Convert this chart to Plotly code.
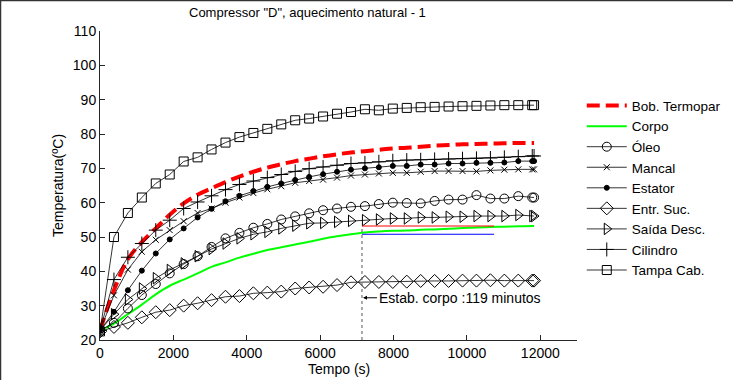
import plotly.graph_objects as go

# time axis (s)
tempo = [0, 380, 760, 1140, 1520, 1900, 2280, 2660, 3040, 3420, 3800, 4180, 4560, 4940, 5320, 5700,
         6080, 6460, 6840, 7220, 7600, 7980, 8360, 8740, 9120, 9500, 9880, 10260, 10640, 11020, 11400,
         11780, 11830]

bob_termopar = [22.8, 34.5, 43.5, 48.5, 52.5, 56.5, 59.8, 62.3, 64.2, 66.0, 67.6, 69.0, 70.2, 71.2, 72.1, 72.8,
                73.5, 74.1, 74.6, 75.0, 75.4, 75.8, 76.0, 76.3, 76.6, 76.8, 77.0, 77.1, 77.2, 77.3, 77.4, 77.4, 77.4]
corpo = [22.8, 24.8, 27.5, 30.3, 33.3, 35.8, 37.6, 39.4, 41.3, 42.6, 44.0, 45.1, 46.2, 47.0, 47.8, 48.6,
         49.5, 50.2, 50.8, 51.3, 51.6, 51.8, 51.9, 52.1, 52.2, 52.4, 52.6, 52.8, 52.9, 53.0, 53.1, 53.2, 53.2]
oleo = [22.8, 25.0, 29.2, 33.1, 36.3, 39.4, 42.1, 44.4, 47.1, 49.6, 51.2, 52.7, 53.8, 55.1, 56.0, 56.9,
        57.8, 58.3, 58.8, 59.0, 59.6, 60.0, 59.9, 59.8, 60.5, 60.9, 60.9, 62.2, 61.2, 61.2, 61.9, 61.5, 61.5]
mancal = [22.8, 33.0, 40.5, 45.7, 49.2, 52.0, 54.6, 57.0, 58.3, 60.0, 61.5, 62.8, 63.9, 64.8, 65.8, 66.3,
          66.7, 67.3, 67.9, 68.2, 68.5, 68.7, 68.7, 69.0, 69.2, 69.2, 69.2, 69.1, 69.4, 69.6, 69.7, 69.7, 69.7]
estator = [22.8, 28.2, 34.5, 40.2, 45.2, 49.3, 52.5, 55.7, 58.2, 60.4, 62.0, 63.4, 64.6, 65.6, 66.6, 67.5,
           68.3, 69.0, 69.6, 70.0, 70.3, 70.7, 70.7, 71.1, 71.1, 71.4, 71.4, 71.6, 71.6, 71.7, 72.1, 72.1, 72.1]
entr_suc = [22.5, 23.8, 25.0, 26.6, 28.1, 28.7, 30.0, 30.7, 31.6, 32.6, 32.8, 33.6, 33.8, 34.1, 35.0, 35.3,
            35.5, 36.0, 36.8, 36.9, 36.9, 36.9, 37.0, 37.2, 37.2, 37.2, 37.3, 37.3, 37.4, 37.3, 37.3, 37.3, 37.3]
saida_desc = [22.8, 27.5, 31.8, 35.0, 38.0, 40.4, 42.3, 44.4, 46.5, 48.1, 49.6, 50.8, 51.5, 52.5, 53.3, 54.0,
              54.1, 54.4, 54.7, 54.9, 55.1, 55.4, 55.4, 55.7, 55.7, 55.9, 55.9, 56.1, 56.1, 56.1, 56.4, 56.1, 56.1]
cilindro = [22.8, 37.6, 44.1, 48.1, 52.0, 54.9, 58.3, 60.2, 62.0, 63.8, 65.3, 66.3, 67.3, 68.2, 69.1, 69.9,
            70.4, 70.9, 71.4, 71.6, 71.9, 72.2, 72.4, 72.5, 72.6, 72.7, 72.8, 72.9, 73.0, 73.2, 73.4, 73.6, 73.6]
tampa_cab = [22.5, 50.0, 57.0, 61.5, 65.6, 68.2, 72.0, 73.2, 75.5, 77.5, 79.1, 80.3, 81.5, 82.8, 84.0, 84.5,
             85.1, 85.9, 86.4, 87.2, 86.9, 87.4, 87.6, 87.8, 87.9, 88.0, 88.1, 88.2, 88.3, 88.4, 88.4, 88.4, 88.4]

x_ticks = [0, 2000, 4000, 6000, 8000, 10000, 12000]
x_ticklabels = ["0", "2000", "4000", "6000", "8000", "10000", "12000"]
y_ticks = [20, 30, 40, 50, 60, 70, 80, 90, 100, 110]

# stabilisation marks
estab_t = [7140, 10740]
estab_sup = [53.2, 53.2]
estab_inf = [50.8, 50.8]
estab_vline_y = [20, 53.2]
estab_label_y = 32.3

FONT = "Arial, Liberation Sans, sans-serif"

fig = go.Figure()

def marked(name, y, symbol, size=8, mcolor="black", lwidth=1):
    fig.add_trace(go.Scatter(
        x=tempo, y=y, name=name, mode="lines+markers",
        line=dict(color="black", width=0.8),
        marker=dict(symbol=symbol, size=size, color=mcolor,
                    line=dict(color="black", width=lwidth)),
    ))

fig.add_trace(go.Scatter(x=tempo, y=bob_termopar, name="Bob. Termopar", mode="lines",
                         line=dict(color="#ff0000", width=4, dash="13px,6px", shape="spline")))
fig.add_trace(go.Scatter(x=tempo, y=corpo, name="Corpo", mode="lines",
                         line=dict(color="#00ff00", width=2, shape="spline")))
marked("Óleo", oleo, "circle-open", 9)
marked("Mancal", mancal, "x-thin-open", 6)
marked("Estator", estator, "circle", 5)
marked("Entr. Suc.", entr_suc, "diamond-open", 10)
marked("Saída Desc.", saida_desc, "triangle-right-open", 10)
marked("Cilindro", cilindro, "cross-thin-open", 10)
marked("Tampa Cab.", tampa_cab, "square-open", 9)

fig.add_trace(go.Scatter(x=estab_t, y=estab_sup, mode="lines", showlegend=False,
                         line=dict(color="#ff0000", width=1)))
fig.add_trace(go.Scatter(x=estab_t, y=estab_inf, mode="lines", showlegend=False,
                         line=dict(color="#0000ff", width=1)))
fig.add_trace(go.Scatter(x=[estab_t[0], estab_t[0]], y=estab_vline_y, mode="lines", showlegend=False,
                         line=dict(color="#555555", width=1, dash="dot")))

fig.add_annotation(x=estab_t[0], y=estab_label_y, text="Estab. corpo :119 minutos",
                   showarrow=True, ax=15, ay=0, axref="pixel", ayref="pixel",
                   arrowhead=2, arrowsize=0.8, arrowwidth=1, arrowcolor="black",
                   xanchor="left", yanchor="middle", standoff=1,
                   font=dict(family=FONT, size=14, color="black"))

# axis titles as annotations (paper coords)
fig.add_annotation(xref="paper", yref="paper", x=0.5, y=-0.0939, text="Tempo (s)", showarrow=False,
                   xanchor="center", yanchor="middle", font=dict(family=FONT, size=14, color="black"))
fig.add_annotation(xref="paper", yref="paper", x=-0.0891, y=0.5, text="Temperatura(ºC)", showarrow=False,
                   textangle=-90, xanchor="center", yanchor="middle",
                   font=dict(family=FONT, size=14, color="black"))
# title
fig.add_annotation(xref="paper", yref="paper", x=0.434, y=1.06, text='Compressor "D", aquecimento natural - 1',
                   showarrow=False, xanchor="center", yanchor="middle",
                   font=dict(family=FONT, size=13, color="black"))

# window border (left/top)
fig.add_shape(type="line", xref="paper", yref="paper", x0=-0.2086, x1=-0.2086, y0=-0.13, y1=1.1,
              line=dict(color="#333333", width=1.5))
fig.add_shape(type="line", xref="paper", yref="paper", x0=-0.2096, x1=1.35, y0=1.0987, y1=1.0987,
              line=dict(color="#333333", width=1.5))

fig.update_layout(
    width=733, height=380,
    margin=dict(l=100, r=156, t=31, b=40, autoexpand=False),
    paper_bgcolor="white", plot_bgcolor="white",
    font=dict(family=FONT, size=14, color="black"),
    xaxis=dict(range=[0, 13000], tickvals=x_ticks, ticktext=x_ticklabels, automargin=False,
               ticks="inside", ticklen=5, tickcolor="#262626", showline=True, linecolor="#262626",
               linewidth=1, showgrid=False, zeroline=False, mirror=False, tickfont=dict(size=14)),
    yaxis=dict(range=[20, 110], tickvals=y_ticks, automargin=False,
               ticks="inside", ticklen=5, tickcolor="#262626", showline=True, linecolor="#262626",
               linewidth=1, showgrid=False, zeroline=False, mirror=False, tickfont=dict(size=14)),
    legend=dict(x=1.01, xanchor="left", y=0.808, yanchor="top", bgcolor="rgba(0,0,0,0)",
                font=dict(family=FONT, size=13.5), itemwidth=40, tracegroupgap=0),
    showlegend=True,
)

fig.write_html("out.html", config={"displayModeBar": False},
               post_script="document.body.style.margin='0';document.body.style.padding='0';")
